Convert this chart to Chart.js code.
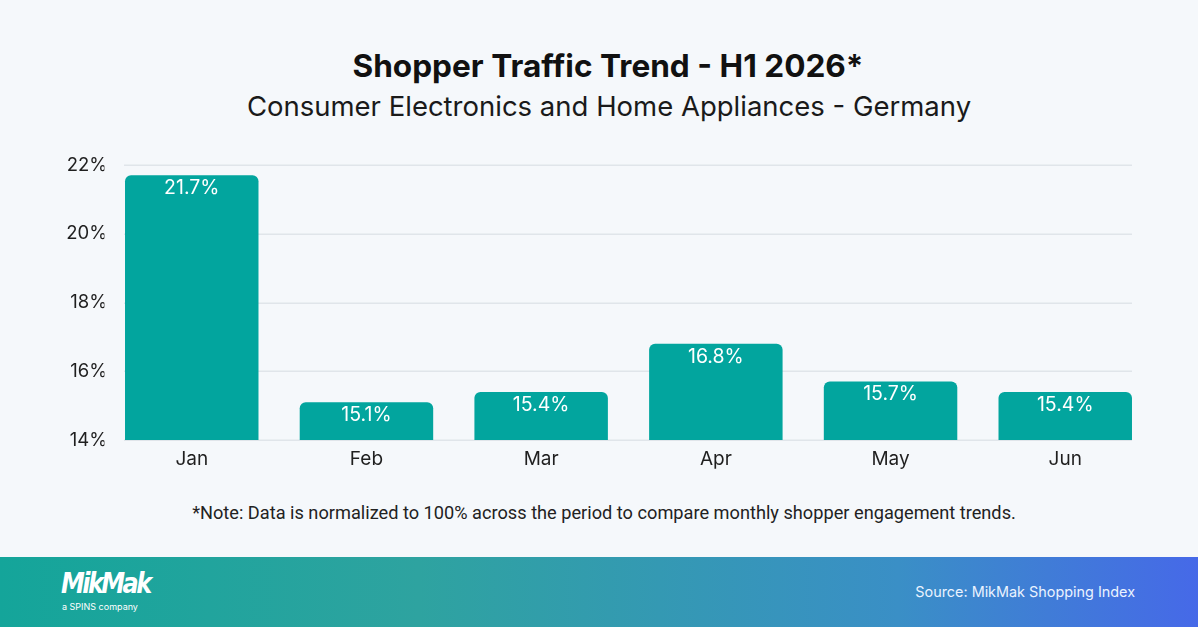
<!DOCTYPE html>
<html>
<head>
<meta charset="utf-8">
<script src="https://cdn.jsdelivr.net/npm/chart.js@4"></script>
<style>
  html, body { margin: 0; padding: 0; }
  body { width: 1198px; height: 627px; background: #f5f8fb; position: relative; overflow: hidden; font-family: Inter, sans-serif; }
  #title { position: absolute; top: 46px; left: 0; width: 1216px; text-align: center; font-weight: 700; font-size: 31.6px; color: #111; }
  #subtitle { position: absolute; top: 89px; left: 0; width: 1218px; text-align: center; font-size: 27.5px; color: #1a1a1a; }
  #wrap { position: absolute; left: 0; top: 140px; width: 1198px; height: 340px; }
  #note { position: absolute; top: 502px; left: 0; width: 1208px; text-align: center; font-family: Roboto, sans-serif; font-size: 18.2px; color: #222; }
  #footer { position: absolute; left: 0; top: 557px; width: 1198px; height: 70px; background: linear-gradient(90deg, #14a59a 0%, #2ea3a0 35%, #3a8fc6 75%, #4669e8 100%); }
  #logo { position: absolute; left: 61px; top: 11px; color: #fff; font-family: "DejaVu Sans", sans-serif; font-weight: 700; font-style: italic; font-size: 24px; letter-spacing: -2.6px; transform: scaleY(1.15); transform-origin: left top; }
  #logosub { position: absolute; left: 62px; top: 44px; color: #fff; font-size: 9px; }
  #source { position: absolute; right: 63px; top: 26px; color: #eaf3ff; font-size: 14.4px; }
</style>
</head>
<body>
<div id="title">Shopper Traffic Trend - H1 2026*</div>
<div id="subtitle">Consumer Electronics and Home Appliances - Germany</div>
<div id="wrap"><canvas id="c"></canvas></div>
<div id="note">*Note: Data is normalized to 100% across the period to compare monthly shopper engagement trends.</div>
<div id="footer">
  <div id="logo">MikMak</div>
  <div id="logosub">a SPINS company</div>
  <div id="source">Source: MikMak Shopping Index</div>
</div>
<script>
const months = ["Jan", "Feb", "Mar", "Apr", "May", "Jun"];
const traffic = [21.7, 15.1, 15.4, 16.8, 15.7, 15.4];
const yTicks = [14, 16, 18, 20, 22];

const gridLines = {
  id: 'gridLines',
  beforeDatasetsDraw(chart) {
    const ctx = chart.ctx;
    const bars = chart.getDatasetMeta(0).data;
    const first = bars[0], last = bars[bars.length - 1];
    const x0 = first.x - first.width / 2 - 1;
    const x1 = last.x + last.width / 2;
    const y = chart.scales.y;
    ctx.save();
    ctx.strokeStyle = '#e0e5ea';
    ctx.lineWidth = 1.5;
    yTicks.forEach(v => {
      const py = Math.round(y.getPixelForValue(v)) + 0.25;
      ctx.beginPath();
      ctx.moveTo(x0, py);
      ctx.lineTo(x1, py);
      ctx.stroke();
    });
    ctx.restore();
  }
};

const barLabels = {
  id: 'barLabels',
  afterDatasetsDraw(chart) {
    const ctx = chart.ctx;
    const meta = chart.getDatasetMeta(0);
    ctx.save();
    ctx.fillStyle = '#ffffff';
    ctx.font = '19.5px Inter';
    ctx.textAlign = 'center';
    ctx.textBaseline = 'middle';
    meta.data.forEach((bar, i) => {
      ctx.fillText(traffic[i].toFixed(1) + '%', bar.x, bar.y + 13);
    });
    ctx.restore();
  }
};

new Chart(document.getElementById('c'), {
  type: 'bar',
  data: {
    labels: months,
    datasets: [{
      data: traffic,
      backgroundColor: '#02a59e',
      borderRadius: { topLeft: 6, topRight: 6, bottomLeft: 0, bottomRight: 0 },
      borderSkipped: 'start',
      barPercentage: 0.764,
      categoryPercentage: 1.0
    }]
  },
  options: {
    responsive: true,
    maintainAspectRatio: false,
    animation: false,
    layout: { padding: { top: 25, right: 45.4, left: 0, bottom: 0 } },
    plugins: { legend: { display: false }, tooltip: { enabled: false } },
    scales: {
      x: {
        grid: { display: false, drawTicks: false },
        border: { display: false },
        ticks: { color: '#1f1f1f', font: { family: 'Inter', size: 19 }, padding: 8 },
        afterFit(s) { s.height = 40; }
      },
      y: {
        min: yTicks[0],
        max: yTicks[yTicks.length - 1],
        afterBuildTicks(s) { s.ticks = yTicks.map(v => ({ value: v })); },
        grid: { display: false, drawTicks: false },
        border: { display: false },
        ticks: { color: '#1f1f1f', font: { family: 'Inter', size: 18.5 }, padding: -3, callback: v => v + '%' },
        afterFit(s) { s.width = 104.4; }
      }
    }
  },
  plugins: [gridLines, barLabels]
});
</script>
</body>
</html>
